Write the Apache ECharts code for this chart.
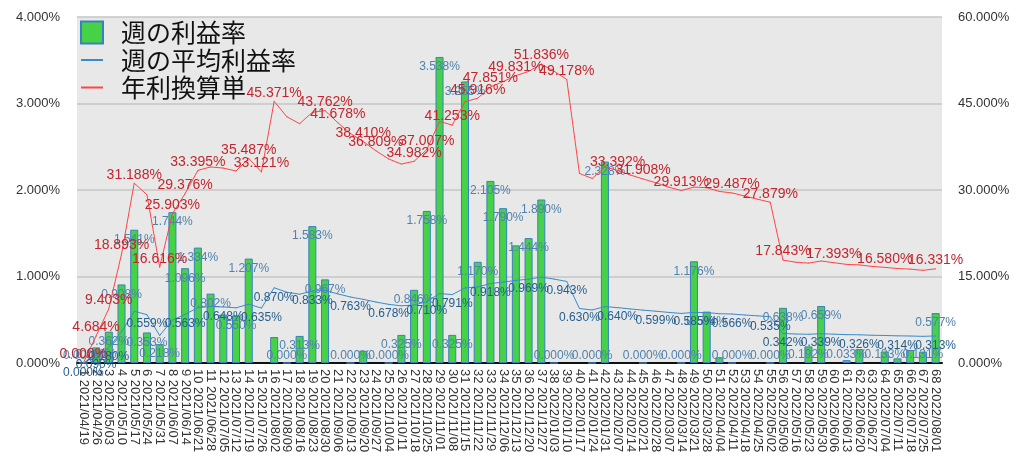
<!DOCTYPE html>
<html>
<head>
<meta charset="utf-8">
<script src="https://cdn.jsdelivr.net/npm/echarts@6/dist/echarts.min.js"></script>
<style>
html,body{margin:0;padding:0;background:#fff;}
#chart{width:1024px;height:475px;}
</style>
</head>
<body>
<div id="chart"></div>
<script>
// ---- data ----
const weekNo = [1,2,3,4,5,6,7,8,9,10,11,12,13,14,15,16,17,18,19,20,21,22,23,24,25,26,27,28,29,30,31,32,33,34,35,36,37,38,39,40,41,42,43,44,45,46,47,48,49,50,51,52,53,54,55,56,57,58,59,60,61,62,63,64,65,66,67,68];
const weekDate = ["2021/04/19","2021/04/26","2021/05/03","2021/05/10","2021/05/17","2021/05/24","2021/05/31","2021/06/07","2021/06/14","2021/06/21","2021/06/28","2021/07/05","2021/07/12","2021/07/19","2021/07/26","2021/08/02","2021/08/09","2021/08/16","2021/08/23","2021/08/30","2021/09/06","2021/09/13","2021/09/20","2021/09/27","2021/10/04","2021/10/11","2021/10/18","2021/10/25","2021/11/01","2021/11/08","2021/11/15","2021/11/22","2021/11/29","2021/12/06","2021/12/13","2021/12/20","2021/12/27","2022/01/03","2022/01/10","2022/01/17","2022/01/24","2022/01/31","2022/02/07","2022/02/14","2022/02/21","2022/02/28","2022/03/07","2022/03/14","2022/03/21","2022/03/28","2022/04/04","2022/04/11","2022/04/18","2022/04/25","2022/05/02","2022/05/09","2022/05/16","2022/05/23","2022/05/30","2022/06/06","2022/06/13","2022/06/20","2022/06/27","2022/07/04","2022/07/11","2022/07/18","2022/07/25","2022/08/01"];
// 週の利益率 (%), null = no bar drawn
const weeklyRate = [0,0.180,0.362,0.908,1.541,0.353,0.218,1.744,1.096,1.334,0.802,0.560,0.550,1.207,null,0.300,0,0.313,1.583,0.967,null,0,0.142,null,0,0.325,0.846,1.758,3.538,0.325,3.255,1.170,2.105,1.790,1.360,1.444,1.890,0,null,null,0,2.328,null,null,0,null,null,0,1.176,0.594,0.066,0,null,null,0,0.638,null,0.192,0.659,null,0.033,0.160,null,0.133,0.054,0.150,0.131,0.577];
// 週の平均利益率 (%)
const avgRate = [0.000,0.090,0.180,0.362,0.598,0.559,0.318,0.496,0.563,0.640,0.652,0.648,0.638,0.680,0.635,0.870,0.818,0.795,0.833,0.839,0.799,0.763,0.736,0.705,0.678,0.661,0.670,0.710,0.803,0.791,0.868,0.880,0.918,0.935,0.955,0.969,0.993,0.970,0.943,0.630,0.613,0.652,0.640,0.625,0.611,0.599,0.585,0.573,0.585,0.583,0.570,0.566,0.555,0.545,0.535,0.342,0.335,0.332,0.339,0.333,0.328,0.326,0.321,0.318,0.314,0.312,0.308,0.313];
// 年利換算単 (%)
const annualRate = [0.000,4.684,9.403,18.893,31.188,29.17,16.616,25.903,29.376,33.395,34.0,33.8,33.3,35.487,33.121,45.371,42.7,41.5,43.47,43.762,41.678,39.8,38.410,36.809,35.38,34.5,34.982,37.007,41.9,41.253,45.3,45.916,47.851,48.8,49.831,50.56,51.836,50.6,49.178,32.87,32.0,34.0,33.392,32.6,31.908,31.26,30.5,29.913,30.5,30.4,29.75,29.487,28.95,28.4,27.879,17.843,17.48,17.32,17.69,17.393,17.1,17.01,16.75,16.580,16.38,16.28,16.07,16.331];
// weeks whose values carry a visible data label
const barLabelWeeks = [1,2,3,4,5,6,7,8,9,10,11,13,14,17,18,19,20,22,25,26,27,28,29,30,31,32,33,34,36,37,38,41,42,45,48,49,50,52,55,56,58,59,61,64,67,68];
const avgLabelWeeks = [1,2,3,6,9,12,15,16,19,22,25,28,30,33,36,39,40,43,46,49,52,55,56,59,62,65,68];
const annualLabelWeeks = [1,2,3,4,5,7,8,9,10,14,15,16,20,21,23,24,27,28,30,32,33,35,37,39,43,45,48,52,55,56,60,64,68];
const leftTicks = {min:0, max:4, interval:1};
const rightTicks = {min:0, max:60, interval:15};

// ---- chart ----
const categories = weekNo.map((n,i)=> n + ' ' + weekDate[i]);
const pct = v => v.toFixed(3) + '%';
function withLabels(values, weeks){
  return values.map((v,i)=> (v !== null && weeks.indexOf(weekNo[i]) >= 0) ? {value:v, label:{show:true}} : v);
}
const numFont = '"Liberation Sans", Arial, sans-serif';
const chart = echarts.init(document.getElementById('chart'), null, {renderer:'canvas'});
chart.setOption({
  animation:false,
  backgroundColor:'#ffffff',
  grid:{left:77, right:82, top:17, bottom:112, show:true, backgroundColor:'#e8e8e8', borderWidth:0},
  legend:{
    orient:'vertical', left:80, top:20, padding:0, itemWidth:22, itemHeight:22, itemGap:2.5,
    textStyle:{fontSize:25, color:'#111', fontFamily:'"Noto Sans CJK JP", sans-serif', padding:[0,0,0,13], lineHeight:22},
    data:[
      {name:'週の利益率', icon:'rect'},
      {name:'週の平均利益率', itemStyle:{color:'rgba(0,0,0,0)', borderWidth:0}},
      {name:'年利換算単', itemStyle:{color:'rgba(0,0,0,0)', borderWidth:0}}
    ]
  },
  xAxis:{
    type:'category', data:categories,
    axisLine:{lineStyle:{color:'#111', width:2}},
    axisTick:{show:false},
    axisLabel:{interval:0, rotate:-90, margin:6, fontSize:13, color:'#333', fontFamily:numFont}
  },
  yAxis:[
    {type:'value', min:leftTicks.min, max:leftTicks.max, interval:leftTicks.interval,
     axisLine:{show:false}, axisTick:{show:false},
     splitLine:{lineStyle:{color:'#c6c6c6', width:1.5}},
     axisLabel:{formatter:v=>pct(v), margin:17, fontSize:13, color:'#333', fontFamily:numFont}},
    {type:'value', min:rightTicks.min, max:rightTicks.max, interval:rightTicks.interval,
     axisLine:{show:false}, axisTick:{show:false}, splitLine:{show:false},
     axisLabel:{formatter:v=>pct(v), margin:16, fontSize:13, color:'#333', fontFamily:numFont}}
  ],
  series:[
    {name:'週の利益率', type:'bar', yAxisIndex:0, barWidth:'63%',
     data:withLabels(weeklyRate, barLabelWeeks),
     itemStyle:{color:'#46d246', borderColor:'#3a7fc0', borderWidth:1},
     label:{show:false, formatter:p=>pct(p.value), fontSize:12, color:'#4f82ad', fontFamily:numFont},
     labelLayout:function(p){
       const r = p.rect;
       return {x:r.x + r.width/2, y:Math.min(r.y + 10, r.y + r.height - 8), align:'center', verticalAlign:'middle'};
     }, z:2},
    {name:'週の平均利益率', type:'line', yAxisIndex:0,
     data:withLabels(avgRate, avgLabelWeeks),
     symbol:'circle', symbolSize:1, showSymbol:true,
     lineStyle:{color:'#3a8bcb', width:1}, itemStyle:{color:'#3a8bcb'},
     label:{show:false, position:'bottom', distance:3, formatter:p=>pct(p.value), fontSize:12, color:'#245f8f', fontFamily:numFont}, z:3},
    {name:'年利換算単', type:'line', yAxisIndex:1,
     data:withLabels(annualRate, annualLabelWeeks),
     symbol:'circle', symbolSize:1, showSymbol:true,
     lineStyle:{color:'#ff4545', width:1}, itemStyle:{color:'#ff4545'},
     label:{show:false, position:'top', distance:1, formatter:p=>pct(p.value), fontSize:14, color:'#c4262b', fontFamily:numFont}, z:4}
  ]
});
</script>
</body>
</html>
